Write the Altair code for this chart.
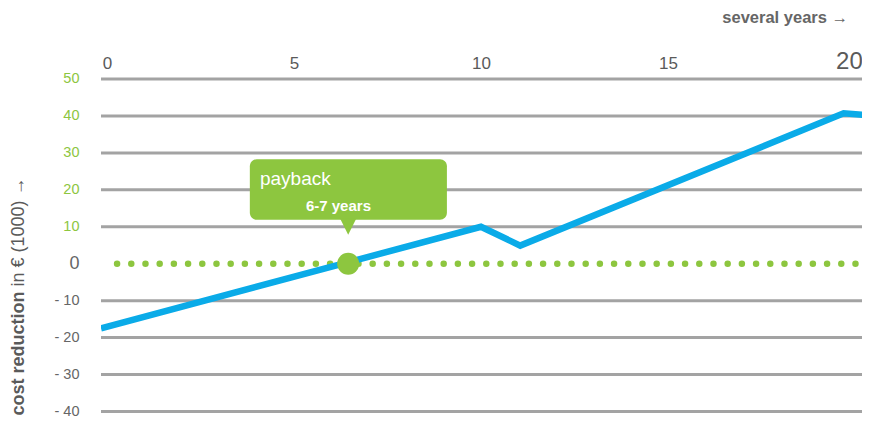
import altair as alt
import pandas as pd

# ---- data ----
years = [-0.16, 10.0, 11.05, 19.7, 20.4]
savings = [-17.5, 10.0, 4.9, 40.7, 40.2]
grid_values = [50, 40, 30, 20, 10, -10, -20, -30, -40]
x_ticks = [0, 5, 10, 15, 20]
y_ticks = [50, 40, 30, 20, 10, 0, -10, -20, -30, -40]
payback_year = [6.45]
payback_value = [0]
dots_from = [0.27]
dots_to = [20.4]
callout_x = [3.82]
callout_x2 = [9.09]
callout_y = [28.3]
callout_y2 = [11.9]
pointer_value = [10.0]
label_main = ["payback"]
label_main_x = [4.09]
label_main_y = [22.9]
label_sub = ["6-7 years"]
label_sub_x = [6.19]
label_sub_y = [15.6]

GREEN = "#8dc63f"
BLUE = "#0aabe8"
GRID = "#a3a3a3"
TEXT = "#5a5a5a"
FONT = "Liberation Sans"

xs = alt.Scale(domain=[-0.16, 20.19], nice=False, zero=False)
ys = alt.Scale(domain=[-40.3, 52], nice=False, zero=False)

line_df = pd.DataFrame({"year": years, "value": savings})
grid_df = pd.DataFrame({"value": grid_values})
pt_df = pd.DataFrame({"year": payback_year, "value": payback_value})
dots_df = pd.DataFrame({"year": dots_from, "x2": dots_to, "value": payback_value})
box_df = pd.DataFrame({"year": callout_x, "x2": callout_x2, "value": callout_y, "y2": callout_y2})
ptr_df = pd.DataFrame({"year": payback_year, "value": pointer_value})
t1_df = pd.DataFrame({"year": label_main_x, "value": label_main_y, "t": label_main})
t2_df = pd.DataFrame({"year": label_sub_x, "value": label_sub_y, "t": label_sub})
one = pd.DataFrame({"a": [0]})

x_axis = alt.Axis(orient="top", values=x_ticks, title=None, domain=False, ticks=False,
                  grid=False, labelColor=TEXT, labelFont=FONT, labelPadding=3,
                  labelBaseline="alphabetic",
                  labelFontSize={"condition": {"test": "datum.value == 20", "value": 24}, "value": 17},
                  labelOffset={"condition": {"test": "datum.value == 20", "value": -6}, "value": 0},
                  labelFlush=False)
y_axis = alt.Axis(values=y_ticks, title=None, domain=False, ticks=False, grid=False,
                  labelFont=FONT, labelPadding=22,
                  labelExpr="datum.value < 0 ? '- ' + abs(datum.value) : datum.label",
                  labelColor={"condition": {"test": "datum.value > 0", "value": GREEN}, "value": "#666666"},
                  labelFontSize={"condition": {"test": "datum.value == 0", "value": 18}, "value": 14.5})

X = alt.X("year:Q", scale=xs, axis=x_axis, title=None)
Y = alt.Y("value:Q", scale=ys, axis=y_axis, title=None)

line = alt.Chart(line_df).mark_line(color=BLUE, strokeWidth=6.5, clip=True).encode(x=X, y=Y)

grid = alt.Chart(grid_df).mark_rule(color=GRID, strokeWidth=3).encode(y=Y)

dots = alt.Chart(dots_df).mark_rule(color=GREEN, strokeWidth=6.5, strokeDash=[0, 14.2],
                                    strokeCap="round", clip=True).encode(x=X, x2="x2:Q", y=Y)

box = alt.Chart(box_df).mark_rect(color=GREEN, cornerRadius=7).encode(
    x=X, x2="x2:Q", y=Y, y2="y2:Q")

ptr = alt.Chart(ptr_df).mark_point(shape="M-1,-1L1,-1L0,1Z", filled=True, size=256,
                                   color=GREEN, opacity=1).encode(x=X, y=Y)

circle = alt.Chart(pt_df).mark_circle(color=GREEN, size=484, opacity=1).encode(x=X, y=Y)

t1 = alt.Chart(t1_df).mark_text(color="white", font=FONT, fontSize=19, align="left",
                                baseline="middle").encode(x=X, y=Y, text="t:N")

t2 = alt.Chart(t2_df).mark_text(color="white", font=FONT, fontSize=15, fontWeight="bold",
                                align="center", baseline="middle").encode(x=X, y=Y, text="t:N")

title_bold = alt.Chart(one).mark_text(text="cost reduction", angle=270, align="right",
                                      baseline="middle", font=FONT, fontSize=18,
                                      fontWeight="bold", color=TEXT).encode(
    x=alt.value(-82), y=alt.value(220)
)
title_norm = alt.Chart(one).mark_text(text="in € (1000) →", angle=270, align="left",
                                      baseline="middle", font=FONT, fontSize=18,
                                      color=TEXT).encode(
    x=alt.value(-82), y=alt.value(215)
)
years_title = alt.Chart(one).mark_text(text="several years →", align="right",
                                       baseline="middle", font=FONT, fontSize=16.5,
                                       fontWeight="bold", color="#666666").encode(
    x=alt.value(747), y=alt.value(-54)
)

chart = alt.layer(grid, dots, line, box, ptr, circle, t1, t2,
                  title_bold, title_norm, years_title).properties(
    width=761, height=341,
    autosize=alt.AutoSizeParams(type="none"),
    padding={"left": 93, "top": 63.6, "right": 0, "bottom": 6.4},
).configure_view(stroke=None).configure_axis(grid=False)

chart.save("out.html", embed_options={"renderer": "svg", "actions": False})
